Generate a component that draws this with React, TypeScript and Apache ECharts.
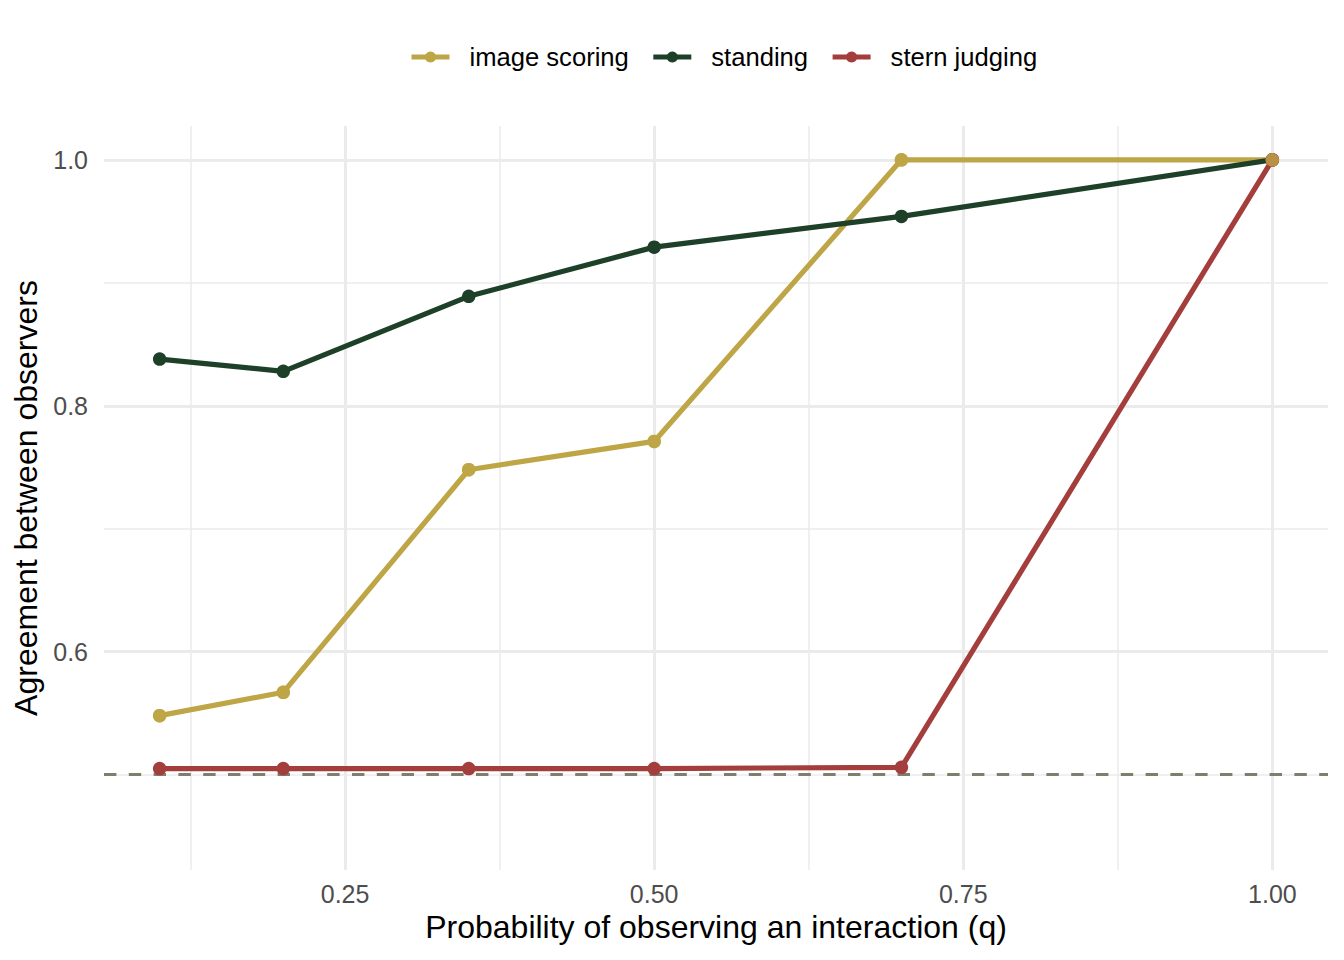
import React, { useEffect, useRef } from "react";
import * as echarts from "echarts";

const q = [0.1, 0.2, 0.35, 0.5, 0.7, 1.0];
const imageScoring = [0.548, 0.567, 0.748, 0.771, 1.0, 1.0];
const standing = [0.838, 0.828, 0.889, 0.929, 0.954, 1.0];
const sternJudging = [0.505, 0.505, 0.505, 0.505, 0.506, 1.0];

const seriesNames = ["image scoring", "standing", "stern judging"];
const seriesColors = ["#BEA646", "#1E4029", "#A43E3C"];

const xMajor = [0.25, 0.5, 0.75, 1.0];
const xMinor = [0.125, 0.375, 0.625, 0.875];
const yMajor = [0.6, 0.8, 1.0];
const yMinor = [0.5, 0.7, 0.9];
const chanceLevel = 0.5;

const FONT = "'Liberation Sans', Arial, Helvetica, sans-serif";

export default function App() {
  const ref = useRef<HTMLDivElement>(null);
  useEffect(() => {
    if (!ref.current) return;
    const chart = echarts.init(ref.current, undefined, { renderer: "svg" });
    const toPts = (ys: number[]) => q.map((x, i) => [x, ys[i]]);
    const allData = [imageScoring, standing, sternJudging];

    const gridLines = [
      ...xMinor.map((v) => ({ xAxis: v, lineStyle: { width: 1.5 } })),
      ...yMinor.map((v) => ({ yAxis: v, lineStyle: { width: 1.5 } })),
      ...xMajor.map((v) => ({ xAxis: v, lineStyle: { width: 3 } })),
      ...yMajor.map((v) => ({ yAxis: v, lineStyle: { width: 3 } })),
    ];

    const lineSeries = seriesNames.map((name, i) => ({
      name,
      type: "line",
      data: toPts(allData[i]),
      symbol: "circle",
      symbolSize: 13.5,
      showSymbol: true,
      itemStyle: { color: seriesColors[i] },
      lineStyle: { color: seriesColors[i], width: 5.2 },
      z: 4,
      emphasis: { disabled: true },
    }));

    chart.setOption({
      animation: false,
      backgroundColor: "#FFFFFF",
      textStyle: { fontFamily: FONT },
      legend: {
        data: seriesNames,
        top: 44,
        left: 409,
        padding: 0,
        itemWidth: 38,
        itemHeight: 14,
        itemGap: 22,
        lineStyle: { width: 5 },
        textStyle: { fontSize: 25.6, color: "#000", fontFamily: FONT, padding: [0, 0, 0, 15] },
      },
      grid: { left: 104, right: 16, top: 126, bottom: 90, containLabel: false },
      xAxis: {
        type: "value",
        min: 0.055,
        max: 1.045,
        name: "Probability of observing an interaction (q)",
        nameLocation: "middle",
        nameGap: 41,
        nameTextStyle: { fontSize: 32, color: "#000", fontFamily: FONT },
        axisLine: { show: false },
        axisTick: { show: false },
        splitLine: { show: false },
        axisLabel: {
          customValues: xMajor,
          formatter: (v: number) => v.toFixed(2),
          fontSize: 25,
          color: "#4D4D4D",
          margin: 11,
          fontFamily: FONT,
        },
      },
      yAxis: {
        type: "value",
        min: 0.4225,
        max: 1.0275,
        name: "Agreement between observers",
        nameLocation: "middle",
        nameGap: 54,
        nameTextStyle: { fontSize: 32, color: "#000", fontFamily: FONT },
        axisLine: { show: false },
        axisTick: { show: false },
        splitLine: { show: false },
        axisLabel: {
          customValues: yMajor,
          formatter: (v: number) => v.toFixed(1),
          fontSize: 25,
          color: "#4D4D4D",
          margin: 16,
          fontFamily: FONT,
        },
      },
      series: [
        {
          name: "grid",
          type: "line",
          data: [],
          z: 1,
          silent: true,
          markLine: {
            silent: true,
            z: 1,
            precision: 6,
            symbol: ["none", "none"],
            label: { show: false },
            emphasis: { disabled: true },
            lineStyle: { color: "#EBEBEB", type: "solid" },
            data: gridLines,
          },
        },
        {
          name: "chance",
          type: "line",
          data: [],
          z: 2,
          silent: true,
          markLine: {
            silent: true,
            z: 2,
            precision: 6,
            symbol: ["none", "none"],
            label: { show: false },
            emphasis: { disabled: true },
            lineStyle: { color: "#7D7E6D", type: [12.4, 12.4], width: 3.1 },
            data: [{ yAxis: chanceLevel }],
          },
        },
        ...lineSeries,
        {
          name: "image scoring",
          type: "scatter",
          data: toPts(imageScoring),
          symbol: "circle",
          symbolSize: 13.5,
          itemStyle: { color: seriesColors[0] },
          z: 5,
          emphasis: { disabled: true },
        },
      ],
    });
    return () => chart.dispose();
  }, []);
  return (
    <div
      ref={ref}
      style={{ position: "fixed", left: 0, top: 0, width: 1344, height: 960 }}
    />
  );
}
